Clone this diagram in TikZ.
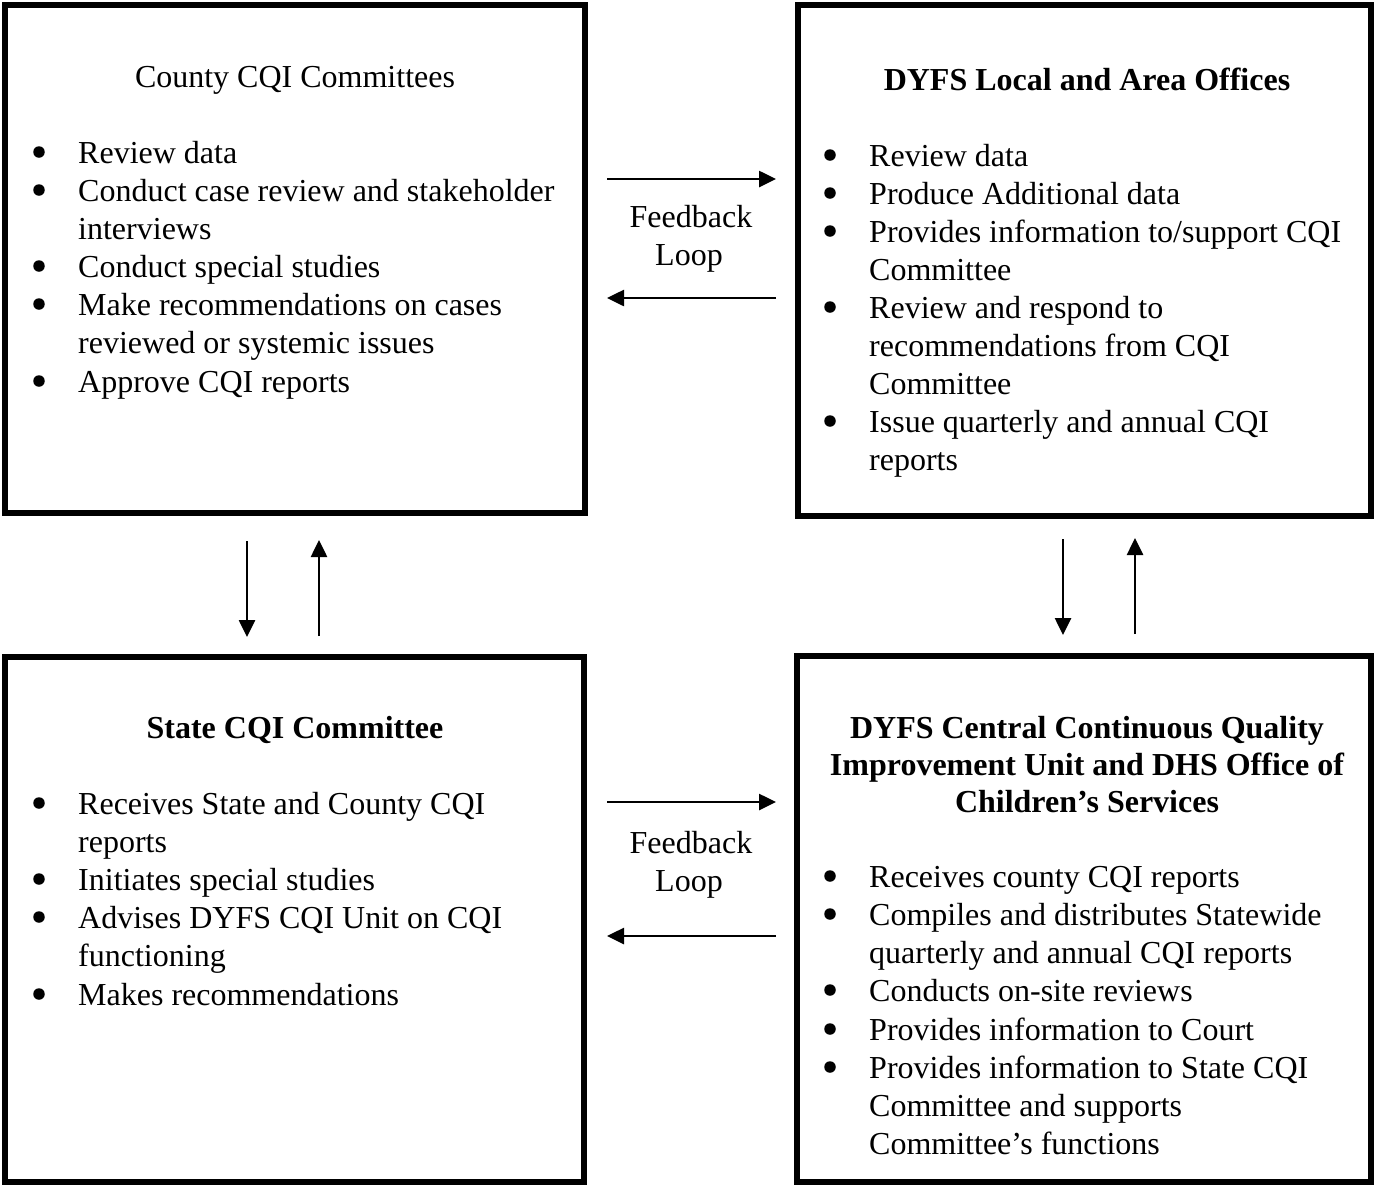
\documentclass[tikz,border=0pt]{standalone}
\usepackage{fontspec}
\setmainfont{Liberation Serif}
\usetikzlibrary{arrows.meta}
\begin{document}
\begin{tikzpicture}[x=1pt,y=-1pt,
  box/.style={draw=black,line width=5.5pt,rectangle,inner sep=0pt},
  txt/.style={anchor=base west,inner sep=0pt,font=\fontsize{32}{38}\selectfont},
  ttl/.style={anchor=base,inner sep=0pt,font=\fontsize{32}{38}\selectfont},
  bul/.style={circle,fill=black,inner sep=0pt,minimum size=11.5pt,yshift=11pt},
  arr/.style={line width=2.6pt,-{Triangle[length=17pt,width=16pt]}}]
\useasboundingbox (0,0) rectangle (1374,1184);
\fill[white] (0,0) rectangle (1374,1184);
% boxes
\node[box,minimum width=580pt,minimum height=508pt] (b1) at (295,259) {};
\node[box,minimum width=573pt,minimum height=511pt] (b2) at (1084.5,260.5) {};
\node[box,minimum width=579pt,minimum height=525pt] (b3) at (294.5,919.5) {};
\node[box,minimum width=574pt,minimum height=526pt] (b4) at (1084,919) {};
% box 1
\node[ttl] (t1) at (295,87) {County CQI Committees};
\node[bul] (p11) at (39,163) {};
\node[txt] (a11) at (78,163) {Review data};
\node[bul] (p12) at (39,201) {};
\node[txt] (a12) at (78,201) {Conduct case review and stakeholder};
\node[txt] (a13) at (78,239) {interviews};
\node[bul] (p13) at (39,277) {};
\node[txt] (a14) at (78,277) {Conduct special studies};
\node[bul] (p14) at (39,315) {};
\node[txt] (a15) at (78,315) {Make recommendations on cases};
\node[txt] (a16) at (78,353) {reviewed or systemic issues};
\node[bul] (p15) at (39,392) {};
\node[txt] (a17) at (78,392) {Approve CQI reports};
% box 2
\node[ttl,font=\fontsize{32}{38}\selectfont\bfseries] (t2) at (1087,90) {DYFS Local and Area Offices};
\node[bul] (p21) at (830,166) {};
\node[txt] (a21) at (869,166) {Review data};
\node[bul] (p22) at (830,204) {};
\node[txt] (a22) at (869,204) {Produce Additional data};
\node[bul] (p23) at (830,242) {};
\node[txt] (a23) at (869,242) {Provides information to/support CQI};
\node[txt] (a24) at (869,280) {Committee};
\node[bul] (p24) at (830,318) {};
\node[txt] (a25) at (869,318) {Review and respond to};
\node[txt] (a26) at (869,356) {recommendations from CQI};
\node[txt] (a27) at (869,394) {Committee};
\node[bul] (p25) at (830,432) {};
\node[txt] (a28) at (869,432) {Issue quarterly and annual CQI};
\node[txt] (a29) at (869,470) {reports};
% box 3
\node[ttl,font=\fontsize{32}{38}\selectfont\bfseries] (t3) at (295,738) {State CQI Committee};
\node[bul] (p31) at (39,814) {};
\node[txt] (a31) at (78,814) {Receives State and County CQI};
\node[txt] (a32) at (78,852) {reports};
\node[bul] (p32) at (39,890) {};
\node[txt] (a33) at (78,890) {Initiates special studies};
\node[bul] (p33) at (39,928) {};
\node[txt] (a34) at (78,928) {Advises DYFS CQI Unit on CQI};
\node[txt] (a35) at (78,966) {functioning};
\node[bul] (p34) at (39,1005) {};
\node[txt] (a36) at (78,1005) {Makes recommendations};
% box 4
\node[ttl,font=\fontsize{32}{37}\selectfont\bfseries] (t4a) at (1087,738) {DYFS Central Continuous Quality};
\node[ttl,font=\fontsize{32}{37}\selectfont\bfseries] (t4b) at (1087,775) {Improvement Unit and DHS Office of};
\node[ttl,font=\fontsize{32}{37}\selectfont\bfseries] (t4c) at (1087,812) {Children’s Services};
\node[bul] (p41) at (830,887) {};
\node[txt] (a41) at (869,887) {Receives county CQI reports};
\node[bul] (p42) at (830,925) {};
\node[txt] (a42) at (869,925) {Compiles and distributes Statewide};
\node[txt] (a43) at (869,963) {quarterly and annual CQI reports};
\node[bul] (p43) at (830,1001) {};
\node[txt] (a44) at (869,1001) {Conducts on-site reviews};
\node[bul] (p44) at (830,1040) {};
\node[txt] (a45) at (869,1040) {Provides information to Court};
\node[bul] (p45) at (830,1078) {};
\node[txt] (a46) at (869,1078) {Provides information to State CQI};
\node[txt] (a47) at (869,1116) {Committee and supports};
\node[txt] (a48) at (869,1154) {Committee’s functions};
% feedback labels
\node[ttl] (f1a) at (691,227) {Feedback};
\node[ttl] (f1b) at (689,265) {Loop};
\node[ttl] (f2a) at (691,853) {Feedback};
\node[ttl] (f2b) at (689,891) {Loop};
% arrow end coordinates
\coordinate (h1l) at (607,179); \coordinate (h1r) at (776,179);
\coordinate (h2l) at (607,298); \coordinate (h2r) at (776,298);
\coordinate (h3l) at (607,802); \coordinate (h3r) at (776,802);
\coordinate (h4l) at (607,936); \coordinate (h4r) at (776,936);
\coordinate (v1t) at (247,541); \coordinate (v1b) at (247,637);
\coordinate (v2t) at (319,540); \coordinate (v2b) at (319,636);
\coordinate (v3t) at (1063,539); \coordinate (v3b) at (1063,635);
\coordinate (v4t) at (1135,538); \coordinate (v4b) at (1135,634);
\draw[arr] (h1l) -- (h1r);
\draw[arr] (h2r) -- (h2l);
\draw[arr] (h3l) -- (h3r);
\draw[arr] (h4r) -- (h4l);
\draw[arr] (v1t) -- (v1b);
\draw[arr] (v2b) -- (v2t);
\draw[arr] (v3t) -- (v3b);
\draw[arr] (v4b) -- (v4t);
\end{tikzpicture}
\end{document}
